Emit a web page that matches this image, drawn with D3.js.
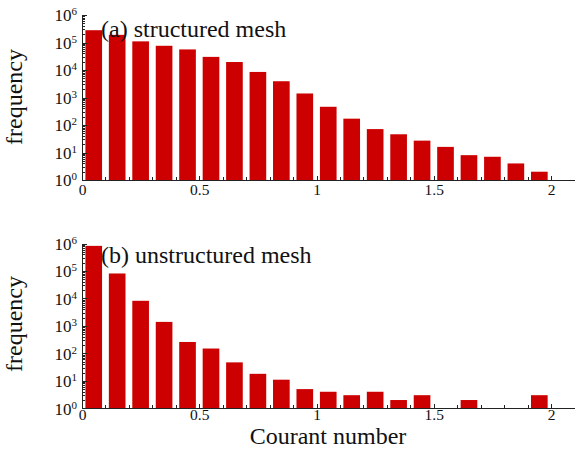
<!DOCTYPE html>
<html>
<head>
<meta charset="utf-8">
<script src="https://cdn.jsdelivr.net/npm/d3@7"></script>
<style>
  html, body { margin: 0; padding: 0; background: #fff; }
  svg { display: block; font-family: "Liberation Serif", "Times New Roman", serif; }
  .axis path, .axis line { stroke: #222; shape-rendering: crispEdges; }
  .axis text { fill: #111; font-family: "Liberation Serif", serif; }
</style>
</head>
<body>
<div id="chart"></div>
<script>
// Courant number histograms, structured vs unstructured mesh (log frequency)

const binCenters = [0.05, 0.15, 0.25, 0.35, 0.45, 0.55, 0.65, 0.75, 0.85, 0.95,
                    1.05, 1.15, 1.25, 1.35, 1.45, 1.55, 1.65, 1.75, 1.85, 1.95];

const structuredFreq = [280000, 190000, 110000, 76000, 56000, 30000, 19500, 8500, 3900, 1400,
                        460, 170, 71, 46, 27, 16, 8, 7, 4, 2];

const unstructuredFreq = [820000, 81000, 8200, 1400, 260, 150, 47, 18, 11, 5,
                          4, 3, 4, 2, 3, 0, 2, 0, 0, 3];

const xTickLabels = [0, 0.5, 1, 1.5, 2];
const yDecades = [1, 10, 100, 1000, 10000, 100000, 1000000];
const panelTitles = ['(a) structured mesh', '(b) unstructured mesh'];

const W = 575, H = 450;

const svg = d3.select('#chart').append('svg')
    .attr('width', W)
    .attr('height', H);

svg.append('rect').attr('width', W).attr('height', H).attr('fill', '#fff');

const xScale = d3.scaleLinear()
    .domain([0, 2.1])
    .range([82, 574.5]);

const binWidth = 0.071;

// minor ticks inside each decade
const minorY = [];
yDecades.slice(0, -1).forEach(d => {
    for (let k = 2; k <= 9; k++) minorY.push(d * k);
});
const minorX = d3.range(0, 21).map(i => i / 10);

const panels = [
    { values: structuredFreq, top: 15, bottom: 180, title: panelTitles[0], titleY: 37, ylabY: 97, labelGap: 16 },
    { values: unstructuredFreq, top: 243.5, bottom: 408.3, title: panelTitles[1], titleY: 263, ylabY: 324, labelGap: 13 }
];

panels.forEach(p => {
    const g = svg.append('g');

    const yScale = d3.scaleLog()
        .domain([1, 1e6])
        .range([p.bottom, p.top]);

    // bars (zero counts have nothing to show on a log axis)
    g.selectAll('.bar')
        .data(binCenters.map((c, i) => ({ c, v: p.values[i] })).filter(d => d.v > 0))
        .enter()
        .append('rect')
        .attr('class', 'bar')
        .attr('x', d => xScale(d.c - binWidth / 2))
        .attr('width', d => xScale(binWidth) - xScale(0))
        .attr('y', d => yScale(d.v))
        .attr('height', d => p.bottom - yScale(d.v))
        .attr('fill', '#cc0000');

    // x axis: minor ticks pointing up
    g.append('g')
        .attr('class', 'axis')
        .attr('transform', `translate(0,${p.bottom})`)
        .call(d3.axisBottom(xScale).tickValues(minorX).tickSizeInner(-3).tickSizeOuter(0).tickFormat(''));

    g.append('g')
        .attr('class', 'axis')
        .attr('transform', `translate(0,${p.bottom})`)
        .call(d3.axisBottom(xScale).tickValues(xTickLabels).tickSizeInner(-4).tickSizeOuter(0)
            .tickPadding(p.labelGap - 12).tickFormat(d => String(d)))
        .call(a => a.select('.domain').remove())
        .selectAll('text')
        .style('font-size', '15.5px');

    // y axis: minor and decade ticks pointing right
    g.append('g')
        .attr('class', 'axis')
        .attr('transform', `translate(${xScale(0)},0)`)
        .call(d3.axisLeft(yScale).tickValues(minorY).tickSizeInner(-2.5).tickSizeOuter(0).tickFormat(''));

    const yAxis = g.append('g')
        .attr('class', 'axis')
        .attr('transform', `translate(${xScale(0)},0)`)
        .call(d3.axisLeft(yScale).tickValues(yDecades).tickSizeInner(-4.5).tickSizeOuter(0).tickPadding(5));

    yAxis.selectAll('text').each(function(d) {
        const t = d3.select(this);
        t.text(null)
            .attr('dy', '0.35em')
            .style('font-size', '17px');
        t.append('tspan').text('10');
        t.append('tspan')
            .attr('dy', '-0.55em')
            .style('font-size', '11px')
            .text(Math.round(Math.log10(d)));
    });

    // panel title
    g.append('text')
        .attr('x', 101)
        .attr('y', p.titleY)
        .style('font-size', '24px')
        .style('fill', '#111')
        .text(p.title);

    // y label
    g.append('text')
        .attr('transform', `translate(22,${p.ylabY}) rotate(-90)`)
        .attr('text-anchor', 'middle')
        .style('font-size', '24px')
        .style('fill', '#111')
        .text('frequency');
});

svg.append('text')
    .attr('x', 328)
    .attr('y', 444)
    .attr('text-anchor', 'middle')
    .style('font-size', '24px')
    .style('fill', '#111')
    .text('Courant number');
</script>
</body>
</html>
